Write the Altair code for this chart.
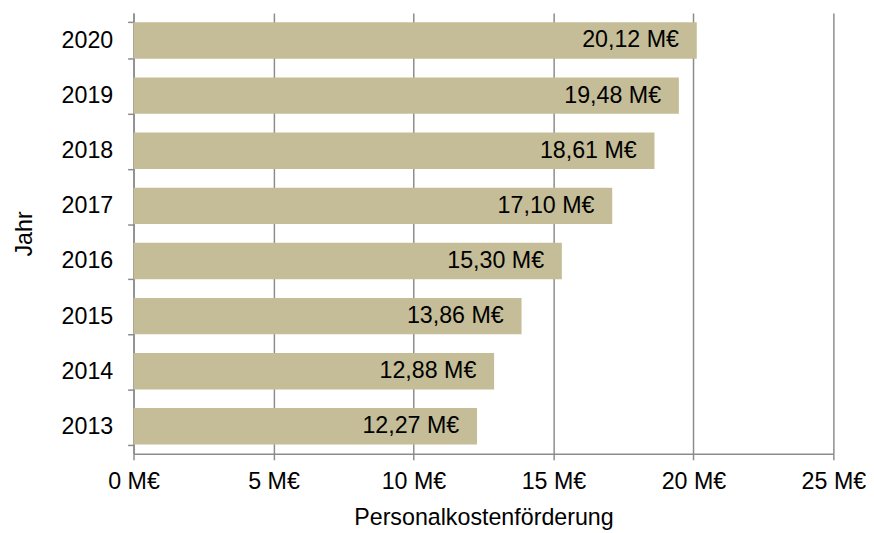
import altair as alt
import pandas as pd

years = ["2013", "2014", "2015", "2016", "2017", "2018", "2019", "2020"]
values = [12.27, 12.88, 13.86, 15.30, 17.10, 18.61, 19.48, 20.12]
labels = ["12,27 M€", "12,88 M€", "13,86 M€", "15,30 M€", "17,10 M€", "18,61 M€", "19,48 M€", "20,12 M€"]
x_ticks = [0, 5, 10, 15, 20, 25]

df = pd.DataFrame({"Jahr": years, "Wert": values, "Label": labels})

FONT = "Liberation Sans"
FS = 23.5
GRID = "#8c8c8c"

y_enc = alt.Y(
    "Jahr:O",
    sort="descending",
    scale=alt.Scale(paddingInner=0.34, paddingOuter=0.17),
    axis=alt.Axis(
        title="Jahr",
        tickBand="extent",
        tickSize=6,
        tickColor=GRID,
        tickWidth=1.5,
        domainColor=GRID,
        domainWidth=1.5,
        labelPadding=15,
        labelFontSize=FS,
        labelFont=FONT,
        labelColor="black",
        titleFontSize=FS,
        titleFont=FONT,
        titleFontWeight="normal",
        titleColor="black",
        titlePadding=25,
        grid=False,
    ),
)

x_enc = alt.X(
    "Wert:Q",
    scale=alt.Scale(domain=[0, 25], nice=False),
    axis=alt.Axis(
        title="Personalkostenförderung",
        values=x_ticks,
        labelExpr="datum.value + ' M€'",
        labelFlush=False,
        tickSize=6,
        tickColor=GRID,
        tickWidth=1.5,
        domainColor=GRID,
        domainWidth=1.5,
        gridColor=GRID,
        gridWidth=1.5,
        labelPadding=10,
        labelFontSize=FS,
        labelFont=FONT,
        labelColor="black",
        titleFontSize=FS,
        titleFont=FONT,
        titleFontWeight="normal",
        titleColor="black",
        titlePadding=13,
    ),
)

bars = alt.Chart(df).mark_bar(color="#C4BD97").encode(x=x_enc, y=y_enc)

text = alt.Chart(df).mark_text(
    align="right", baseline="middle", dx=-18, font=FONT, fontSize=FS, color="black"
).encode(x="Wert:Q", y=alt.Y("Jahr:O", sort="descending"), text="Label:N")

chart = (
    (bars + text)
    .properties(width=708, height=446, padding={"left": 4, "top": -10, "right": 0, "bottom": 0})
    .configure_view(stroke=None)
)

chart.save("out.html", embed_options={"renderer": "svg", "actions": False})
